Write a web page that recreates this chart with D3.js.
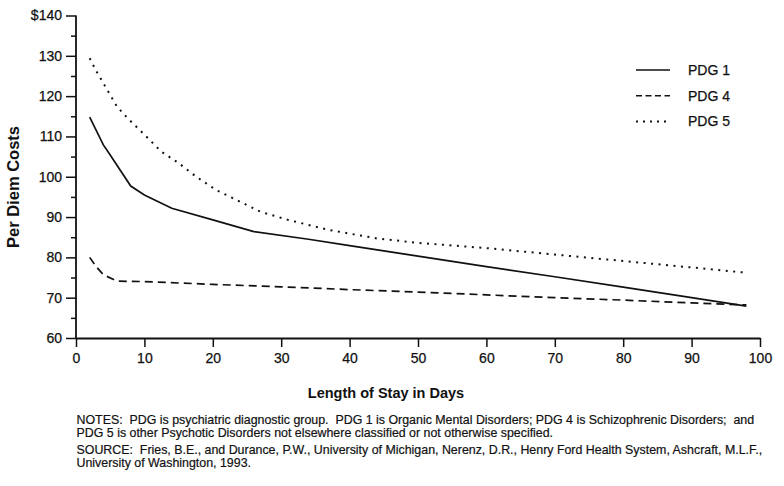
<!DOCTYPE html>
<html><head><meta charset="utf-8">
<script src="https://cdn.jsdelivr.net/npm/d3@7"></script>
<style>
body{margin:0;background:#fff;}
svg{display:block;font-family:"Liberation Sans",Arial,Helvetica,sans-serif;}
.note{white-space:pre;}
</style></head>
<body>
<svg id="chart" width="784" height="486"></svg>
<script>
// ---- data ----
const pdg1Days = [2,4,5,8,10,14,20,26,34,40,50,60,70,80,90,98];
const pdg1Cost = [114.8,107.9,105.4,97.7,95.5,92.2,89.3,86.4,84.5,82.9,80.3,77.7,75.2,72.6,70.0,67.9];
const pdg4Days = [2,3,4,6,10,20,30,40,50,60,70,80,90,98];
const pdg4Cost = [80,77.6,75.7,74.1,74,73.3,72.7,72.0,71.4,70.7,70.0,69.4,68.7,68.2];
const pdg5Days = [2,3,4,5,6,7.5,9,10.5,12.5,15,17.5,20.5,24,27,31,37,44,50,60,70,80,90,98];
const pdg5Cost = [129.4,126.1,123.2,120.3,117.4,114.6,112.1,109.6,106.2,103.4,100.1,96.7,93.8,91.3,89.3,86.8,84.7,83.6,82.3,80.7,79.1,77.5,76.2];
const seriesNames = ["PDG 1","PDG 4","PDG 5"];
const xTicks = [0,10,20,30,40,50,60,70,80,90,100];
const yTicks = [60,70,80,90,100,110,120,130,140];
const yMinorTicks = [65,75,85,95,105,115,125,135];
const yTickLabels = ["60","70","80","90","100","110","120","130","$140"];
const xTitle = "Length of Stay in Days";
const yTitle = "Per Diem Costs";
const notes = [
  "NOTES:  PDG is psychiatric diagnostic group.  PDG 1 is Organic Mental Disorders; PDG 4 is Schizophrenic Disorders;  and",
  "PDG 5 is other Psychotic Disorders not elsewhere classified or not otherwise specified.",
  "SOURCE:  Fries, B.E., and Durance, P.W., University of Michigan, Nerenz, D.R., Henry Ford Health System, Ashcraft, M.L.F.,",
  "University of Washington, 1993."
];

// ---- layout ----
const svg = d3.select("#chart");
const x = d3.scaleLinear().domain([0,100]).range([76,760]);
const y = d3.scaleLinear().domain([60,140]).range([338,15.5]);
const dashes = ["none","8,5","2,5.5"];

// y axis
const yAxis = svg.append("g").attr("transform",`translate(${x(0)},0)`)
  .call(d3.axisLeft(y).tickValues(yTicks).tickSize(10).tickPadding(4)
        .tickFormat((d,i)=>yTickLabels[i]));
yAxis.append("g").call(d3.axisLeft(y).tickValues(yMinorTicks).tickSize(5).tickFormat(""))
  .select(".domain").remove();
// x axis
const xAxis = svg.append("g").attr("transform",`translate(0,${y(60)})`)
  .call(d3.axisBottom(x).tickValues(xTicks).tickSize(9).tickPadding(6).tickSizeOuter(0));
[yAxis,xAxis].forEach(g=>{
  g.selectAll(".domain").attr("stroke","#111").attr("stroke-width",1.8);
  g.selectAll(".tick line").attr("stroke","#111").attr("stroke-width",1.5);
  g.selectAll("text").attr("font-size",14).attr("fill","#111")
   .attr("stroke","#111").attr("stroke-width",0.25)
   .attr("font-family","Liberation Sans, Arial, sans-serif");
});
yAxis.selectAll(".domain").attr("d",`M0,${y(140)}V${y(60)}`);

// lines
const line = d3.line().x(d=>x(d[0])).y(d=>y(d[1]));
const series = [
  d3.zip(pdg1Days,pdg1Cost),
  d3.zip(pdg4Days,pdg4Cost),
  d3.zip(pdg5Days,pdg5Cost)
];
series.forEach((s,i)=>{
  svg.append("path").datum(s).attr("d",line)
    .attr("fill","none").attr("stroke","#111")
    .attr("stroke-width", i===2?2:1.7)
    .attr("stroke-dasharray",dashes[i]);
});

// legend
const leg = svg.append("g").attr("transform","translate(636,70)");
seriesNames.forEach((n,i)=>{
  const g = leg.append("g").attr("transform",`translate(0,${i*25.7})`);
  g.append("line").attr("x1",0).attr("x2",34).attr("y1",0).attr("y2",0)
    .attr("stroke","#111").attr("stroke-width",i===2?2:1.6)
    .attr("stroke-dasharray",i===1?"6,3.5":i===2?"2,5":"none");
  g.append("text").attr("x",52).attr("y",5).attr("font-size",14).attr("fill","#111")
    .attr("stroke","#111").attr("stroke-width",0.25).text(n);
});

// titles
svg.append("text").attr("x",386).attr("y",398).attr("text-anchor","middle")
  .attr("font-size",14.5).attr("font-weight","bold").attr("fill","#111").text(xTitle);
svg.append("text").attr("transform","translate(18.5,187) rotate(-90)")
  .attr("text-anchor","middle").attr("font-size",16.5).attr("font-weight","bold")
  .attr("fill","#111").text(yTitle);

// notes
const noteY = [423.5,436.5,454,467];
notes.forEach((t,i)=>{
  svg.append("text").attr("class","note").attr("x",76.5).attr("y",noteY[i])
    .attr("font-size",12.4).attr("fill","#111")
    .attr("stroke","#111").attr("stroke-width",0.2).text(t);
});
</script>
</body></html>
